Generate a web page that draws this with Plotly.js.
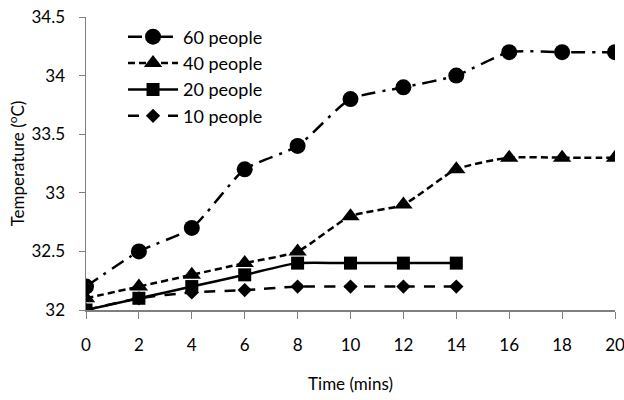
<!DOCTYPE html>
<html><head><meta charset="utf-8">
<script src="https://cdn.plot.ly/plotly-3.0.1.min.js"></script>
<style>html,body{margin:0;padding:0;background:#fff}</style>
</head><body>
<div id="chart" style="width:624px;height:400px"></div>
<script>
const time = [0, 2, 4, 6, 8, 10, 12, 14, 16, 18, 20];
const time14 = [0, 2, 4, 6, 8, 10, 12, 14];
const people60 = [32.2, 32.5, 32.7, 33.2, 33.4, 33.8, 33.9, 34.0, 34.2, 34.2, 34.2];
const people40 = [32.1, 32.2, 32.3, 32.4, 32.5, 32.8, 32.9, 33.2, 33.3, 33.3, 33.3];
const people20 = [32.0, 32.1, 32.2, 32.3, 32.4, 32.4, 32.4, 32.4];
const people10 = [32.0, 32.1, 32.15, 32.17, 32.2, 32.2, 32.2, 32.2];
const yTicks = [32, 32.5, 33, 33.5, 34, 34.5];
const yTickText = ['32', '32.5', '33', '33.5', '34', '34.5'];
const xTicks = [0, 2, 4, 6, 8, 10, 12, 14, 16, 18, 20];

const font = 'Lato, "Open Sans", sans-serif';
const traces = [
  {x: time, y: people60, name: '60 people', mode: 'lines+markers',
   line: {color: '#000', width: 2.5, dash: '14px,7px,3px,7px', shape: 'spline', smoothing: 0.6},
   marker: {symbol: 'circle', size: 16, color: '#000'}},
  {x: time, y: people40, name: '40 people', mode: 'lines+markers',
   line: {color: '#000', width: 2.5, dash: '7px,4px', shape: 'spline', smoothing: 0.6},
   marker: {symbol: 'triangle-up', size: 16, color: '#000'}},
  {x: time14, y: people20, name: '20 people', mode: 'lines+markers',
   line: {color: '#000', width: 2.5, shape: 'spline', smoothing: 0.6},
   marker: {symbol: 'square', size: 13, color: '#000'}},
  {x: time14, y: people10, name: '10 people', mode: 'lines+markers',
   line: {color: '#000', width: 2.5, dash: '11px,9px', shape: 'spline', smoothing: 0.6},
   marker: {symbol: 'diamond', size: 11, color: '#000'}}
];

const layout = {
  width: 624, height: 400,
  margin: {l: 86, r: 9, t: 17, b: 90},
  paper_bgcolor: '#fff', plot_bgcolor: '#fff',
  font: {family: font, size: 17, color: '#000'},
  showlegend: true,
  legend: {x: 0.07, y: 0.995, xanchor: 'left', yanchor: 'top', bgcolor: 'rgba(0,0,0,0)',
    font: {family: font, size: 18, color: '#000'}, tracegroupgap: 0, itemwidth: 50},
  xaxis: {
    range: [0, 20], tickvals: xTicks, showgrid: false, zeroline: false,
    showline: true, linecolor: '#7f7f7f', linewidth: 1.5, ticks: 'outside', ticklen: 7,
    tickcolor: '#7f7f7f', tickfont: {family: font, size: 17, color: '#000'},
    ticklabelstandoff: 12, ticklabeloverflow: 'allow',
    title: {text: 'Time (mins)', font: {family: font, size: 17, color: '#000'}, standoff: 24},
    automargin: false
  },
  yaxis: {
    range: [32, 34.5], tickvals: yTicks, ticktext: yTickText, showgrid: false, zeroline: false,
    showline: true, linecolor: '#7f7f7f', linewidth: 1.5, ticks: 'outside', ticklen: 6,
    tickcolor: '#7f7f7f', tickfont: {family: font, size: 17, color: '#000'},
    ticklabelstandoff: 10, ticklabeloverflow: 'allow',
    title: {text: 'Temperature (<sup>o</sup>C)', font: {family: font, size: 17, color: '#000'}, standoff: 2},
    automargin: false
  }
};
Plotly.newPlot('chart', traces, layout, {displayModeBar: false, staticPlot: true});
</script>
</body></html>
